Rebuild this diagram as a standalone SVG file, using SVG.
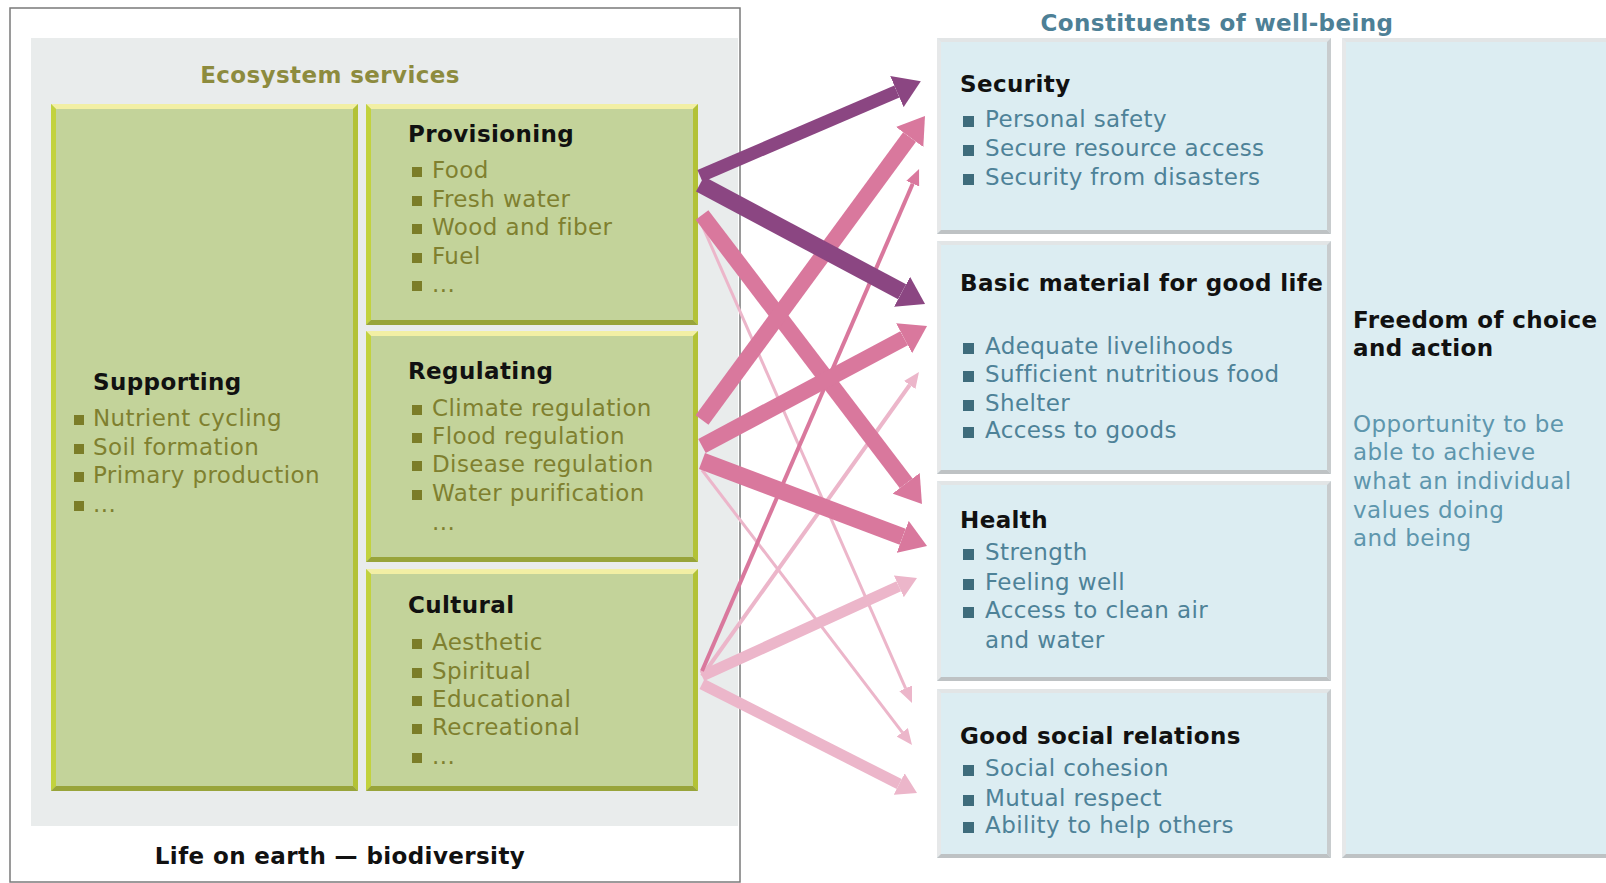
<svg xmlns="http://www.w3.org/2000/svg" width="1606" height="883" viewBox="0 0 1606 883">
<style>
text{font-family:"DejaVu Sans",Verdana,sans-serif;font-size:23px;letter-spacing:0.4px}
.h{font-weight:bold;fill:#111}
.gi{fill:#7f802f}
.bi{fill:#4e8298}
.fd{fill:#5e96ad}
.gb{fill:#7b7d28}
.bb{fill:#3e6c7c}
.gfill{fill:#c3d39a}
.gt{fill:#f2efa4}.gl{fill:#c2d23e}.gr{fill:#b3c236}.gbt{fill:#98a43a}
.bfill{fill:#dcedf2}
.bt{fill:#e2e5e6}.bl{fill:#e6e8e9}.br{fill:#c8ccce}.bbt{fill:#bec2c4}
.c{fill:none;stroke-linecap:butt}
</style>
<defs>
<marker id="hPurpleL" markerUnits="userSpaceOnUse" markerWidth="26" markerHeight="34" refX="0" refY="17" orient="auto"><path d="M0,0 L26,17 L0,34 z" fill="#8b4682"/></marker>
<marker id="hPinkL" markerUnits="userSpaceOnUse" markerWidth="26" markerHeight="34" refX="0" refY="17" orient="auto"><path d="M0,0 L26,17 L0,34 z" fill="#d9789d"/></marker>
<marker id="hPinkS" markerUnits="userSpaceOnUse" markerWidth="16" markerHeight="14" refX="0" refY="7" orient="auto"><path d="M0,0 L16,7 L0,14 z" fill="#d9789d"/></marker>
<marker id="hLightM" markerUnits="userSpaceOnUse" markerWidth="20" markerHeight="24" refX="0" refY="12" orient="auto"><path d="M0,0 L20,12 L0,24 z" fill="#ecb6ca"/></marker>
<marker id="hLightS" markerUnits="userSpaceOnUse" markerWidth="16" markerHeight="14" refX="0" refY="7" orient="auto"><path d="M0,0 L16,7 L0,14 z" fill="#ecb6ca"/></marker>
</defs>

<rect width="1606" height="883" fill="#ffffff"/>

<!-- Left panel frame -->
<g id="life-on-earth">
<rect x="10" y="8" width="730" height="874" fill="#ffffff" stroke="#7a7a7a" stroke-width="1.5"/>
<rect x="31" y="38" width="707" height="788" fill="#e9ecec"/>
<text x="330" y="83" text-anchor="middle" font-weight="bold" fill="#8d8b3e">Ecosystem services</text>
<text x="340" y="864" text-anchor="middle" class="h">Life on earth — biodiversity</text>
</g>

<g id="supporting">
<rect class="gfill" x="51" y="104" width="307" height="687"/>
<polygon class="gt" points="51,104 358,104 353,109 56,109"/>
<polygon class="gl" points="51,104 56,109 56,786 51,791"/>
<polygon class="gr" points="358,104 358,791 353,786 353,109"/>
<polygon class="gbt" points="51,791 56,786 353,786 358,791"/>
<text x="93" y="390" class="h">Supporting</text>
<rect class="gb" x="74" y="415" width="10" height="10"/><text x="93" y="426" class="gi">Nutrient cycling</text>
<rect class="gb" x="74" y="444" width="10" height="10"/><text x="93" y="455" class="gi">Soil formation</text>
<rect class="gb" x="74" y="472" width="10" height="10"/><text x="93" y="483" class="gi">Primary production</text>
<rect class="gb" x="74" y="501" width="10" height="10"/><text x="93" y="512" class="gi">...</text>
</g>

<g id="provisioning">
<rect class="gfill" x="366" y="104" width="332" height="221"/>
<polygon class="gt" points="366,104 698,104 693,109 371,109"/>
<polygon class="gl" points="366,104 371,109 371,320 366,325"/>
<polygon class="gr" points="698,104 698,325 693,320 693,109"/>
<polygon class="gbt" points="366,325 371,320 693,320 698,325"/>
<text x="408" y="142" class="h">Provisioning</text>
<rect class="gb" x="412" y="167" width="10" height="10"/><text x="432" y="178" class="gi">Food</text>
<rect class="gb" x="412" y="196" width="10" height="10"/><text x="432" y="207" class="gi">Fresh water</text>
<rect class="gb" x="412" y="224" width="10" height="10"/><text x="432" y="235" class="gi">Wood and fiber</text>
<rect class="gb" x="412" y="253" width="10" height="10"/><text x="432" y="264" class="gi">Fuel</text>
<rect class="gb" x="412" y="281" width="10" height="10"/><text x="432" y="292" class="gi">...</text>
</g>

<g id="regulating">
<rect class="gfill" x="366" y="331" width="332" height="231"/>
<polygon class="gt" points="366,331 698,331 693,336 371,336"/>
<polygon class="gl" points="366,331 371,336 371,557 366,562"/>
<polygon class="gr" points="698,331 698,562 693,557 693,336"/>
<polygon class="gbt" points="366,562 371,557 693,557 698,562"/>
<text x="408" y="379" class="h">Regulating</text>
<rect class="gb" x="412" y="405" width="10" height="10"/><text x="432" y="416" class="gi">Climate regulation</text>
<rect class="gb" x="412" y="433" width="10" height="10"/><text x="432" y="444" class="gi">Flood regulation</text>
<rect class="gb" x="412" y="461" width="10" height="10"/><text x="432" y="472" class="gi">Disease regulation</text>
<rect class="gb" x="412" y="490" width="10" height="10"/><text x="432" y="501" class="gi">Water purification</text>
<text x="432" y="530" class="gi">...</text>
</g>

<g id="cultural">
<rect class="gfill" x="366" y="569" width="332" height="222"/>
<polygon class="gt" points="366,569 698,569 693,574 371,574"/>
<polygon class="gl" points="366,569 371,574 371,786 366,791"/>
<polygon class="gr" points="698,569 698,791 693,786 693,574"/>
<polygon class="gbt" points="366,791 371,786 693,786 698,791"/>
<text x="408" y="613" class="h">Cultural</text>
<rect class="gb" x="412" y="639" width="10" height="10"/><text x="432" y="650" class="gi">Aesthetic</text>
<rect class="gb" x="412" y="668" width="10" height="10"/><text x="432" y="679" class="gi">Spiritual</text>
<rect class="gb" x="412" y="696" width="10" height="10"/><text x="432" y="707" class="gi">Educational</text>
<rect class="gb" x="412" y="724" width="10" height="10"/><text x="432" y="735" class="gi">Recreational</text>
<rect class="gb" x="412" y="753" width="10" height="10"/><text x="432" y="764" class="gi">...</text>
</g>

<!-- Right side -->
<g id="constituents-title">
<text x="1217" y="31" text-anchor="middle" font-weight="bold" fill="#4d8096">Constituents of well-being</text>
</g>

<g id="security">
<rect class="bfill" x="937" y="38" width="394" height="196"/>
<polygon class="bt" points="937,38 1331,38 1327,42 941,42"/>
<polygon class="bl" points="937,38 941,42 941,230 937,234"/>
<polygon class="br" points="1331,38 1331,234 1327,230 1327,42"/>
<polygon class="bbt" points="937,234 941,230 1327,230 1331,234"/>
<text x="960" y="92" class="h">Security</text>
<rect class="bb" x="963" y="116" width="11" height="11"/><text x="985" y="127" class="bi">Personal safety</text>
<rect class="bb" x="963" y="145" width="11" height="11"/><text x="985" y="156" class="bi">Secure resource access</text>
<rect class="bb" x="963" y="174" width="11" height="11"/><text x="985" y="185" class="bi">Security from disasters</text>
</g>

<g id="basic-material">
<rect class="bfill" x="937" y="241" width="394" height="233"/>
<polygon class="bt" points="937,241 1331,241 1327,245 941,245"/>
<polygon class="bl" points="937,241 941,245 941,470 937,474"/>
<polygon class="br" points="1331,241 1331,474 1327,470 1327,245"/>
<polygon class="bbt" points="937,474 941,470 1327,470 1331,474"/>
<text x="960" y="291" class="h">Basic material for good life</text>
<rect class="bb" x="963" y="343" width="11" height="11"/><text x="985" y="354" class="bi">Adequate livelihoods</text>
<rect class="bb" x="963" y="371" width="11" height="11"/><text x="985" y="382" class="bi">Sufficient nutritious food</text>
<rect class="bb" x="963" y="400" width="11" height="11"/><text x="985" y="411" class="bi">Shelter</text>
<rect class="bb" x="963" y="427" width="11" height="11"/><text x="985" y="438" class="bi">Access to goods</text>
</g>

<g id="health">
<rect class="bfill" x="937" y="481" width="394" height="200"/>
<polygon class="bt" points="937,481 1331,481 1327,485 941,485"/>
<polygon class="bl" points="937,481 941,485 941,677 937,681"/>
<polygon class="br" points="1331,481 1331,681 1327,677 1327,485"/>
<polygon class="bbt" points="937,681 941,677 1327,677 1331,681"/>
<text x="960" y="528" class="h">Health</text>
<rect class="bb" x="963" y="549" width="11" height="11"/><text x="985" y="560" class="bi">Strength</text>
<rect class="bb" x="963" y="579" width="11" height="11"/><text x="985" y="590" class="bi">Feeling well</text>
<rect class="bb" x="963" y="607" width="11" height="11"/><text x="985" y="618" class="bi">Access to clean air</text>
<text x="985" y="648" class="bi">and water</text>
</g>

<g id="social-relations">
<rect class="bfill" x="937" y="689" width="394" height="169"/>
<polygon class="bt" points="937,689 1331,689 1327,693 941,693"/>
<polygon class="bl" points="937,689 941,693 941,854 937,858"/>
<polygon class="br" points="1331,689 1331,858 1327,854 1327,693"/>
<polygon class="bbt" points="937,858 941,854 1327,854 1331,858"/>
<text x="960" y="744" class="h">Good social relations</text>
<rect class="bb" x="963" y="765" width="11" height="11"/><text x="985" y="776" class="bi">Social cohesion</text>
<rect class="bb" x="963" y="795" width="11" height="11"/><text x="985" y="806" class="bi">Mutual respect</text>
<rect class="bb" x="963" y="822" width="11" height="11"/><text x="985" y="833" class="bi">Ability to help others</text>
</g>

<g id="freedom">
<rect class="bfill" x="1342" y="38" width="270" height="820"/>
<polygon class="bt" points="1342,38 1612,38 1608,42 1346,42"/>
<polygon class="bl" points="1342,38 1346,42 1346,854 1342,858"/>
<polygon class="bbt" points="1342,858 1346,854 1608,854 1612,858"/>
<text x="1353" y="328" class="h">Freedom of choice</text>
<text x="1353" y="356" class="h">and action</text>
<text x="1353" y="432" class="fd">Opportunity to be</text>
<text x="1353" y="460" class="fd">able to achieve</text>
<text x="1353" y="489" class="fd">what an individual</text>
<text x="1353" y="518" class="fd">values doing</text>
<text x="1353" y="546" class="fd">and being</text>
</g>

<g id="connectors">
<line class="c" x1="702" y1="225" x2="905.6" y2="688.3" stroke="#ecb6ca" stroke-width="3" marker-end="url(#hLightS)"/>
<line class="c" x1="702" y1="470" x2="902.3" y2="732.3" stroke="#ecb6ca" stroke-width="3" marker-end="url(#hLightS)"/>
<line class="c" x1="702" y1="676" x2="909.7" y2="385" stroke="#ecb6ca" stroke-width="4" marker-end="url(#hLightS)"/>
<line class="c" x1="702" y1="676" x2="898.8" y2="586.3" stroke="#ecb6ca" stroke-width="11" marker-end="url(#hLightM)"/>
<line class="c" x1="702" y1="684" x2="899.2" y2="784" stroke="#ecb6ca" stroke-width="11" marker-end="url(#hLightM)"/>
<line class="c" x1="702" y1="671" x2="912.7" y2="183.7" stroke="#d9789d" stroke-width="4" marker-end="url(#hPinkS)"/>
<line class="c" x1="702" y1="215" x2="906.2" y2="483.3" stroke="#d9789d" stroke-width="16" marker-end="url(#hPinkL)"/>
<line class="c" x1="702" y1="420" x2="909.6" y2="137" stroke="#d9789d" stroke-width="16" marker-end="url(#hPinkL)"/>
<line class="c" x1="702" y1="446" x2="904.1" y2="338.2" stroke="#d9789d" stroke-width="16" marker-end="url(#hPinkL)"/>
<line class="c" x1="702" y1="461" x2="902.7" y2="536.8" stroke="#d9789d" stroke-width="17" marker-end="url(#hPinkL)"/>
<line class="c" x1="700" y1="176" x2="896.9" y2="91.5" stroke="#8b4682" stroke-width="13" marker-end="url(#hPurpleL)"/>
<line class="c" x1="700" y1="184" x2="902.1" y2="291.8" stroke="#8b4682" stroke-width="17" marker-end="url(#hPurpleL)"/>
</g>
</svg>
